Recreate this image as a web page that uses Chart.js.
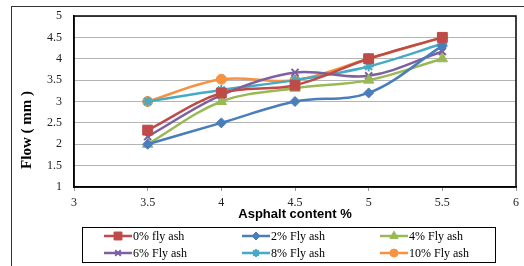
<!DOCTYPE html>
<html>
<head>
<meta charset="utf-8">
<script src="https://cdn.jsdelivr.net/npm/chart.js@4"></script>
<style>
  html, body { margin: 0; padding: 0; background: #fff; }
  #wrap { width: 524px; height: 266px; position: relative; }
</style>
</head>
<body>
<div id="wrap"><canvas id="mycanvas" width="524" height="266"></canvas></div>
<script>
var asphalt = [3.5, 4, 4.5, 5, 5.5];
var flyAsh0 = [2.33, 3.2, 3.38, 4.0, 4.5];
var flyAsh2 = [2.0, 2.5, 3.0, 3.2, 4.3];
var flyAsh4 = [2.0, 3.0, 3.31, 3.5, 4.0];
var flyAsh6 = [2.18, 3.15, 3.68, 3.6, 4.17];
var flyAsh8 = [3.0, 3.27, 3.5, 3.82, 4.35];
var flyAsh10 = [3.0, 3.52, 3.5, 4.0, 4.5];
var seriesNames = ["0% fly ash", "2% Fly ash", "4% Fly ash", "6% Fly ash", "8% Fly ash", "10% Fly ash"];
var xTitle = "Asphalt content %";
var yTitle = "Flow ( mm )";

function pts(vals) {
  var out = [];
  for (var i in vals) out.push({x: asphalt[i], y: vals[i]});
  return out;
}

function ds(label, vals, color, style, r) {
  return {
    label: label,
    data: pts(vals),
    borderColor: color,
    backgroundColor: color,
    borderWidth: 2.5,
    pointStyle: style,
    pointRadius: r,
    pointBorderWidth: style === 'crossRot' || style === 'star' ? 2 : 1,
    tension: 0.35,
    fill: false
  };
}

var datasets = [
  ds(seriesNames[0], flyAsh0, "#BE4B48", "rect", 7),
  ds(seriesNames[1], flyAsh2, "#4A7EBB", "rectRot", 5),
  ds(seriesNames[2], flyAsh4, "#98B954", "triangle", 6),
  ds(seriesNames[3], flyAsh6, "#7D60A0", "crossRot", 5),
  ds(seriesNames[4], flyAsh8, "#46AAC5", "star", 5),
  ds(seriesNames[5], flyAsh10, "#F69240", "circle", 5)
];

var serif = "'Liberation Serif', 'DejaVu Serif', serif";
var sans = "'Liberation Sans', Arial, sans-serif";

// frame, plot border, y title and the boxed legend under the chart
var extras = {
  id: 'extras',
  beforeDraw: function(chart) {
    var ctx = chart.ctx;
    ctx.save();
    ctx.fillStyle = '#fff';
    ctx.fillRect(0, 0, chart.width, chart.height);
    ctx.strokeStyle = '#333';
    ctx.lineWidth = 1;
    ctx.strokeRect(11.5, 6.5, 700, 400);
    ctx.restore();
  },
  afterDraw: function(chart) {
    var ctx = chart.ctx;
    var a = chart.chartArea;
    ctx.save();
    ctx.strokeStyle = '#000';
    ctx.lineWidth = 1.5;
    ctx.strokeRect(a.left, a.top, a.right - a.left, a.bottom - a.top);

    // y axis title, sits a bit low like the original
    ctx.save();
    ctx.translate(27, 130);
    ctx.rotate(-Math.PI / 2);
    ctx.font = "bold 15px " + serif;
    ctx.textAlign = 'center';
    ctx.textBaseline = 'middle';
    ctx.fillStyle = '#000';
    ctx.fillText(yTitle, 0, 0);
    ctx.restore();

    // legend
    ctx.lineWidth = 1;
    ctx.strokeStyle = '#000';
    ctx.strokeRect(82.5, 227.5, 413, 35);
    var cols = [104, 242, 380];
    var rows = [236, 253];
    ctx.font = "12px " + serif;
    ctx.textBaseline = 'middle';
    chart.data.datasets.forEach(function(d, i) {
      var x = cols[i % 3], y = rows[Math.floor(i / 3)];
      ctx.strokeStyle = d.borderColor;
      ctx.fillStyle = d.borderColor;
      ctx.lineWidth = 2.5;
      ctx.beginPath();
      ctx.moveTo(x, y);
      ctx.lineTo(x + 28, y);
      ctx.stroke();
      ctx.lineWidth = d.pointBorderWidth;
      Chart.helpers.drawPoint(ctx, {
        pointStyle: d.pointStyle,
        radius: d.pointRadius * 0.8,
        borderWidth: d.pointBorderWidth,
        rotation: 0
      }, x + 14, y);
      ctx.fillStyle = '#000';
      ctx.fillText(d.label, x + 29, y + 1);
    });
    ctx.restore();
  }
};

function fmt(v) { return String(Math.round(v * 10) / 10); }

var ctx = document.getElementById('mycanvas');
var chart = new Chart(ctx, {
  type: 'line',
  data: { datasets: datasets },
  plugins: [extras],
  options: {
    responsive: false,
    animation: false,
    layout: { padding: { left: 12, top: 16, right: 0, bottom: 0 } },
    plugins: { legend: { display: false }, tooltip: { enabled: false } },
    scales: {
      x: {
        type: 'linear',
        min: 3, max: 6,
        ticks: { stepSize: 0.5, color: '#222', font: { family: serif, size: 12 }, padding: 5, callback: fmt },
        grid: { drawOnChartArea: false, tickLength: 4, color: '#999' },
        border: { color: '#000', width: 1.5 },
        title: { display: true, text: xTitle, color: '#000',
                 font: { family: sans, size: 13, weight: 'bold' }, padding: { top: 0, bottom: 44 } },
        afterFit: function(s) { s.height = 79; s.paddingLeft = 0; s.paddingRight = 0; }
      },
      y: {
        min: 1, max: 5,
        ticks: { stepSize: 0.5, color: '#222', font: { family: serif, size: 12 }, padding: 12, callback: fmt },
        grid: { color: '#b4b4b4', lineWidth: 1, drawTicks: false },
        border: { color: '#000', width: 1.5 },
        afterFit: function(s) { s.width = 62; s.paddingTop = 0; s.paddingBottom = 0; }
      }
    }
  }
});
</script>
</body>
</html>
